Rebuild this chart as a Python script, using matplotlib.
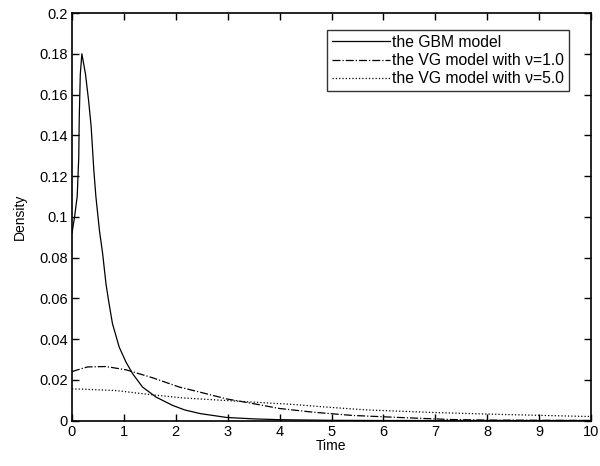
import matplotlib
matplotlib.use("Agg")
import matplotlib.pyplot as plt

plt.rcParams['font.family'] = ['Liberation Sans', 'DejaVu Sans']

# GBM model density
t_gbm = [0.0, 0.05, 0.1, 0.13, 0.14, 0.16, 0.19, 0.26, 0.32, 0.37, 0.42, 0.46, 0.53, 0.59, 0.655, 0.71,
         0.78, 0.91, 1.04, 1.17, 1.36, 1.62, 1.94, 2.17, 2.47, 2.98, 3.5, 4.0, 5.0, 6.0, 7.0, 8.0, 9.0, 10.0]
d_gbm = [0.092, 0.1, 0.11, 0.129, 0.149, 0.170, 0.180, 0.170, 0.157, 0.144, 0.123, 0.110, 0.093, 0.082, 0.0670, 0.058,
         0.0475, 0.036, 0.0287, 0.0229, 0.0164, 0.0115, 0.0074, 0.0052, 0.0034, 0.0015, 0.0008, 0.0004, 0.0001,
         0.0, 0.0, 0.0, 0.0, 0.0]

# VG model nu=1.0
t_vg1 = [0.0, 0.11, 0.3, 0.655, 1.04, 1.55, 2.07, 2.47, 2.98, 3.49, 4.0, 4.64, 5.4, 6.3, 7.3, 8.0, 9.0, 10.0]
d_vg1 = [0.024, 0.0249, 0.0263, 0.0265, 0.0249, 0.021, 0.0164, 0.0139, 0.0106, 0.0083, 0.0059, 0.0041, 0.0025,
         0.0015, 0.0005, 0.0002, 0.0001, 0.0]

# VG model nu=5.0
t_vg5 = [0.0, 0.2, 0.85, 1.48, 2.13, 2.98, 4.26, 5.0, 5.68, 7.0, 8.25, 9.9, 10.0]
d_vg5 = [0.0155, 0.0154, 0.0147, 0.0128, 0.0111, 0.0098, 0.0079, 0.0064, 0.0052, 0.0039, 0.003, 0.002, 0.002]

x_ticks = list(range(0, 11))
y_ticks = [0, 0.02, 0.04, 0.06, 0.08, 0.1, 0.12, 0.14, 0.16, 0.18, 0.2]
y_labels = ['0', '0.02', '0.04', '0.06', '0.08', '0.1', '0.12', '0.14', '0.16', '0.18', '0.2']

fig = plt.figure(figsize=(6.0, 4.66), dpi=100)
ax = fig.add_axes([0.12, 0.0976, 0.865, 0.8744])

ax.plot(t_gbm, d_gbm, color='black', lw=0.9, ls='-', label='the GBM model')
ax.plot(t_vg1, d_vg1, color='black', lw=0.9, ls='-.', label='the VG model with ν=1.0')
ax.plot(t_vg5, d_vg5, color='black', lw=0.9, ls=':', label='the VG model with ν=5.0')

ax.set_xlim(0, 10)
ax.set_ylim(0, 0.2)
ax.set_xticks(x_ticks)
ax.set_xticklabels([str(v) for v in x_ticks])
ax.set_yticks(y_ticks)
ax.set_yticklabels(y_labels)
ax.tick_params(direction='in', top=True, right=True, labelsize=10.5, length=5, width=1, pad=3)
for s in ax.spines.values():
    s.set_linewidth(1.2)

ax.set_xlabel('Time', fontsize=10, labelpad=0)
ax.set_ylabel('Density', fontsize=10, labelpad=9)

leg = ax.legend(loc='upper right', bbox_to_anchor=(0.958, 0.958), fontsize=11.3, frameon=True,
                fancybox=False, edgecolor='black', handlelength=3.7, handletextpad=0.15,
                borderpad=0.3, labelspacing=0.2, borderaxespad=0)
leg.get_frame().set_linewidth(1.0)

fig.savefig('out.png', dpi=100, facecolor='white')
